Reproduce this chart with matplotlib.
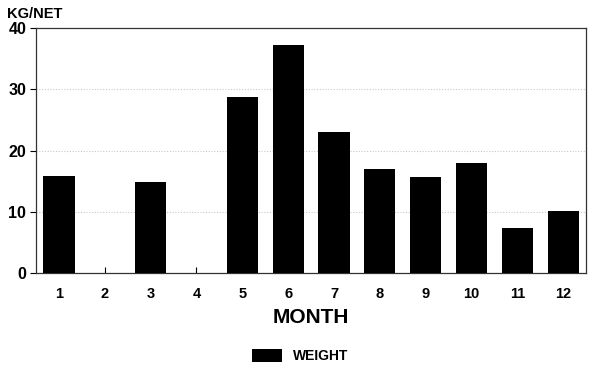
import matplotlib.pyplot as plt
from matplotlib.patches import Patch

months = [1, 2, 3, 4, 5, 6, 7, 8, 9, 10, 11, 12]
weight = [15.8, 0, 14.8, 0, 28.8, 37.3, 23.0, 17.0, 15.7, 18.0, 7.3, 10.2]
yticks = [0, 10, 20, 30, 40]

plt.rcParams['font.family'] = ['Liberation Sans', 'DejaVu Sans']

fig = plt.figure(figsize=(6, 3.75), dpi=100)
ax = fig.add_axes([0.06, 0.272, 0.917, 0.653])

ax.bar(months, weight, width=0.68, color='black', zorder=3)

ax.set_xlim(0.5, 12.5)
ax.set_ylim(0, 40)
ax.set_xticks(months)
ax.set_yticks(yticks)
for y in [10, 20, 30]:
    ax.axhline(y, color='#c8c8c8', linestyle=(0, (1, 1.5)), linewidth=0.8, zorder=1)

ax.tick_params(axis='x', direction='in', length=4, width=0.8, pad=10, labelsize=10.5)
ax.tick_params(axis='y', direction='out', length=4, width=0.8, pad=3, labelsize=11.5)
for lab in ax.get_xticklabels() + ax.get_yticklabels():
    lab.set_fontweight('bold')
for s in ax.spines.values():
    s.set_linewidth(0.9)
    s.set_color('#333333')

ax.set_xlabel('MONTH', fontsize=15, fontweight='bold', labelpad=5)
fig.text(0.012, 0.962, 'KG/NET', fontsize=10.5, fontweight='bold', ha='left', va='center')

fig.legend(handles=[Patch(facecolor='black', label='WEIGHT')], loc='center',
           bbox_to_anchor=(0.5, 0.05), frameon=False, handlelength=2.2, handleheight=1.0,
           prop={'weight': 'bold', 'size': 10})

fig.savefig('out.png', dpi=100)
